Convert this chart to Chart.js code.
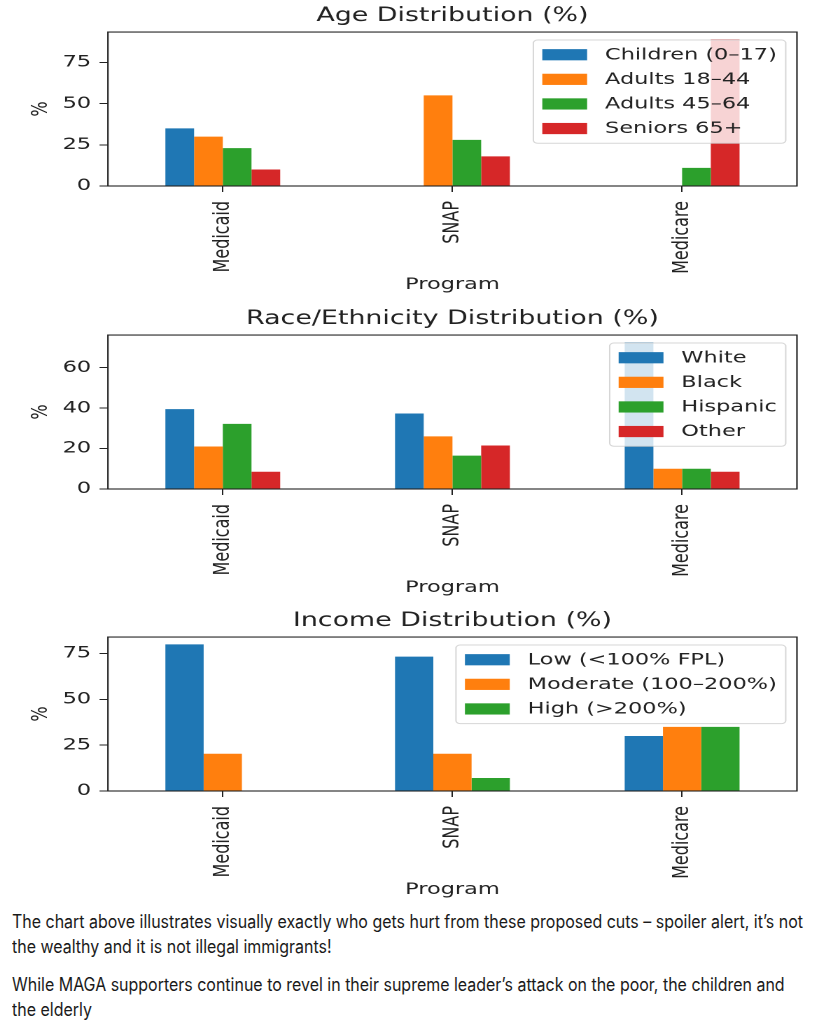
<!DOCTYPE html>
<html>
<head>
<meta charset="utf-8">
<script src="https://cdn.jsdelivr.net/npm/chart.js@4.4.1/dist/chart.umd.min.js"></script>
<style>
  body { margin: 0; background: #fff; width: 815px; height: 1024px; position: relative; overflow: hidden; }
  /* the source picture is stretched sideways, so draw narrow and stretch */
  .box { position: absolute; left: 0; width: 582.14px; height: 303px; transform: scaleX(1.4); transform-origin: 0 0; }
  #note { position: absolute; left: 12px; top: 909px; font-family: Inter, "Open Sans", sans-serif; font-size: 18px; color: #1a1a1a; transform-origin: 0 0; }
  #note div { white-space: nowrap; line-height: 25px; }
  #note .gap { margin-top: 13.4px; }
  #line1 { display: inline-block; }
</style>
</head>
<body>
<div class="box" style="top:0"><canvas id="ageChart"></canvas></div>
<div class="box" style="top:303px"><canvas id="raceChart"></canvas></div>
<div class="box" style="top:605px"><canvas id="incomeChart"></canvas></div>
<div id="note">
  <div><span id="line1">The chart above illustrates visually exactly who gets hurt from these proposed cuts – spoiler alert, it’s not</span></div>
  <div>the wealthy and it is not illegal immigrants!</div>
  <div class="gap">While MAGA supporters continue to revel in their supreme leader’s attack on the poor, the children and</div>
  <div>the elderly</div>
</div>
<script>
  const programs = ["Medicaid", "SNAP", "Medicare"];

  const ageGroups = ["Children (0–17)", "Adults 18–44", "Adults 45–64", "Seniors 65+"];
  const ageChildren = [35, 0, 0];
  const ageAdults1844 = [30, 55, 0];
  const ageAdults4564 = [23, 28, 11];
  const ageSeniors = [10, 18, 89];
  const ageTicks = [0, 25, 50, 75];

  const raceGroups = ["White", "Black", "Hispanic", "Other"];
  const raceWhite = [39.5, 37.3, 72.5];
  const raceBlack = [21, 26, 10];
  const raceHispanic = [32.2, 16.5, 10];
  const raceOther = [8.5, 21.5, 8.5];
  const raceTicks = [0, 20, 40, 60];

  const incomeGroups = ["Low (<100% FPL)", "Moderate (100–200%)", "High (>200%)"];
  const incomeLow = [80, 73.3, 30];
  const incomeModerate = [20.3, 20.3, 35];
  const incomeHigh = [0, 7.1, 35];
  const incomeTicks = [0, 25, 50, 75];

  const colors = ["#1f77b4", "#ff7f0e", "#2ca02c", "#d62728"];

  Chart.defaults.font.family = "'DejaVu Sans'";
  Chart.defaults.color = "#222";

  // axes box + matplotlib style legend, drawn over the bars
  const frameAndLegend = {
    id: "frameAndLegend",
    afterDatasetsDraw(chart) {
      const { ctx, chartArea: a } = chart;
      ctx.save();
      ctx.strokeStyle = "#222";
      ctx.lineWidth = 1.1;
      ctx.strokeRect(a.left, a.top, a.right - a.left, a.bottom - a.top);

      const fs = 16;
      ctx.font = fs + "px 'DejaVu Sans'";
      const items = chart.data.datasets;
      const textW = Math.max(...items.map((d) => ctx.measureText(d.label).width));
      const pad = 0.4 * fs, handle = 2 * fs, gap = 0.8 * fs, rowH = 16.6, space = 0.5 * fs;
      const w = 2 * pad + handle + gap + textW;
      const h = 2 * pad + items.length * rowH + (items.length - 1) * space;
      const x = a.right - 0.5 * fs - w;
      const y = a.top + 0.5 * fs;

      ctx.beginPath();
      ctx.roundRect(x, y, w, h, 3);
      ctx.fillStyle = "rgba(255,255,255,0.8)";
      ctx.fill();
      ctx.strokeStyle = "rgba(204,204,204,0.8)";
      ctx.lineWidth = 1;
      ctx.stroke();

      ctx.textBaseline = "middle";
      items.forEach((d, i) => {
        const cy = y + pad + i * (rowH + space) + rowH / 2;
        ctx.fillStyle = d.backgroundColor;
        ctx.fillRect(x + pad, cy - 0.35 * fs, handle, 0.7 * fs);
        ctx.fillStyle = "#222";
        ctx.fillText(d.label, x + pad + handle + gap, cy + 0.5);
      });
      ctx.restore();
    },
  };

  function makeChart(id, title, groups, series, ticks) {
    const top = Math.max(...series.flat()) * 1.05;
    return new Chart(document.getElementById(id), {
      type: "bar",
      data: {
        labels: programs,
        datasets: series.map((d, i) => ({
          label: groups[i],
          data: d,
          backgroundColor: colors[i],
          borderWidth: 0,
          barPercentage: 1,
          categoryPercentage: 0.5,
        })),
      },
      options: {
        responsive: true,
        maintainAspectRatio: false,
        animation: false,
        devicePixelRatio: 2,
        layout: { padding: { left: 0, right: 12.86, top: 0, bottom: 0 } },
        plugins: {
          legend: { display: false },
          tooltip: { enabled: false },
          title: {
            display: true,
            fullSize: false,
            text: title,
            color: "#222",
            font: { size: 19.2, weight: "normal" },
            padding: { top: 4.5, bottom: 4.5 },
          },
        },
        scales: {
          x: {
            grid: { offset: false, drawOnChartArea: false, tickLength: 6, color: "#222", lineWidth: 1 },
            border: { display: false },
            ticks: { minRotation: 90, maxRotation: 90, padding: 9, font: { size: 16 } },
            title: { display: true, text: "Program", font: { size: 16 }, padding: { top: 0, bottom: 8.4 } },
            afterFit: (s) => { s.height = 117; },
          },
          y: {
            min: 0,
            max: top,
            grid: { drawOnChartArea: false, tickLength: 6, color: "#222", lineWidth: 1 },
            border: { display: false },
            ticks: { padding: 6, includeBounds: false, font: { size: 16 } },
            afterBuildTicks: (s) => { s.ticks = ticks.map((v) => ({ value: v })); },
            title: { display: true, text: "%", font: { size: 16 }, padding: { top: 19.7, bottom: 0 } },
            afterFit: (s) => { s.width = 77.1; },
          },
        },
      },
      plugins: [frameAndLegend],
    });
  }

  makeChart("ageChart", "Age Distribution (%)", ageGroups,
    [ageChildren, ageAdults1844, ageAdults4564, ageSeniors], ageTicks);
  makeChart("raceChart", "Race/Ethnicity Distribution (%)", raceGroups,
    [raceWhite, raceBlack, raceHispanic, raceOther], raceTicks);
  makeChart("incomeChart", "Income Distribution (%)", incomeGroups,
    [incomeLow, incomeModerate, incomeHigh], incomeTicks);

  // squeeze the note so its first line spans the same width as in the picture
  const line1 = document.getElementById("line1");
  const k = 791 / line1.getBoundingClientRect().width;
  document.getElementById("note").style.transform = "scaleX(" + k + ")";
</script>
</body>
</html>
